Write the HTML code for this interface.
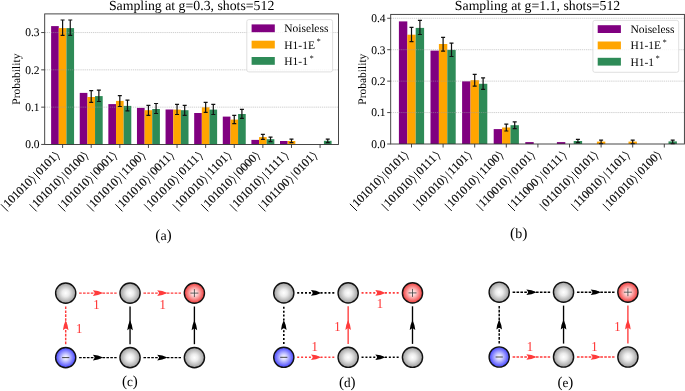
<!DOCTYPE html><html><head><meta charset="utf-8"><style>html,body{margin:0;padding:0;background:#fff;}svg{display:block;will-change:transform;} text{font-family:"Liberation Serif",serif;text-rendering:geometricPrecision;} .k{stroke:#000;stroke-width:0.05;}</style></head><body><svg width="685" height="391" viewBox="0 0 685 391" font-family='"Liberation Serif", serif' fill="#000">
<defs><radialGradient id="gg" cx="0.5" cy="0.5" r="0.5"><stop offset="0" stop-color="#ffffff"/><stop offset="0.35" stop-color="#ececec"/><stop offset="1" stop-color="#9c9c9c"/></radialGradient><radialGradient id="gb" cx="0.5" cy="0.5" r="0.5"><stop offset="0" stop-color="#ffffff"/><stop offset="0.3" stop-color="#d2d2ff"/><stop offset="1" stop-color="#4242ff"/></radialGradient><radialGradient id="gr" cx="0.5" cy="0.5" r="0.5"><stop offset="0" stop-color="#ffffff"/><stop offset="0.3" stop-color="#ffd0d0"/><stop offset="1" stop-color="#f03a3a"/></radialGradient></defs>
<rect width="685" height="391" fill="#fff"/>
<rect x="51.12" y="26.1" width="7.65" height="118.35" fill="#800080"/>
<rect x="58.77" y="28.1" width="7.65" height="116.35" fill="#ffa500"/>
<rect x="66.42" y="28.1" width="7.65" height="116.35" fill="#2e8b57"/>
<rect x="79.74" y="92.9" width="7.65" height="51.55" fill="#800080"/>
<rect x="87.39" y="97" width="7.65" height="47.45" fill="#ffa500"/>
<rect x="95.04" y="96.1" width="7.65" height="48.35" fill="#2e8b57"/>
<rect x="108.34" y="104.1" width="7.65" height="40.35" fill="#800080"/>
<rect x="115.99" y="100.9" width="7.65" height="43.55" fill="#ffa500"/>
<rect x="123.64" y="105.9" width="7.65" height="38.55" fill="#2e8b57"/>
<rect x="136.96" y="107.9" width="7.65" height="36.55" fill="#800080"/>
<rect x="144.61" y="110.2" width="7.65" height="34.25" fill="#ffa500"/>
<rect x="152.25" y="109" width="7.65" height="35.45" fill="#2e8b57"/>
<rect x="165.56" y="109.5" width="7.65" height="34.95" fill="#800080"/>
<rect x="173.22" y="109.6" width="7.65" height="34.85" fill="#ffa500"/>
<rect x="180.86" y="110.2" width="7.65" height="34.25" fill="#2e8b57"/>
<rect x="194.18" y="113" width="7.65" height="31.45" fill="#800080"/>
<rect x="201.83" y="107.3" width="7.65" height="37.15" fill="#ffa500"/>
<rect x="209.47" y="109.6" width="7.65" height="34.85" fill="#2e8b57"/>
<rect x="222.78" y="116.6" width="7.65" height="27.85" fill="#800080"/>
<rect x="230.44" y="119.6" width="7.65" height="24.85" fill="#ffa500"/>
<rect x="238.08" y="114" width="7.65" height="30.45" fill="#2e8b57"/>
<rect x="251.4" y="139.9" width="7.65" height="4.55" fill="#800080"/>
<rect x="259.05" y="137.1" width="7.65" height="7.35" fill="#ffa500"/>
<rect x="266.69" y="139.2" width="7.65" height="5.25" fill="#2e8b57"/>
<rect x="280" y="141" width="7.65" height="3.45" fill="#800080"/>
<rect x="287.66" y="141" width="7.65" height="3.45" fill="#ffa500"/>
<rect x="323.92" y="140.8" width="7.65" height="3.65" fill="#2e8b57"/>
<line x1="44.7" y1="107.15" x2="338.5" y2="107.15" stroke="#a0a0a0" stroke-opacity="0.55" stroke-width="0.9" stroke-dasharray="1.3 0.8"/>
<line x1="44.7" y1="69.85" x2="338.5" y2="69.85" stroke="#a0a0a0" stroke-opacity="0.55" stroke-width="0.9" stroke-dasharray="1.3 0.8"/>
<line x1="44.7" y1="32.55" x2="338.5" y2="32.55" stroke="#a0a0a0" stroke-opacity="0.55" stroke-width="0.9" stroke-dasharray="1.3 0.8"/>
<path d="M62.6 20V35.4M60.6 20H64.6M60.6 35.4H64.6" stroke="#111" stroke-width="1.2" fill="none"/>
<path d="M70.25 20V35.4M68.25 20H72.25M68.25 35.4H72.25" stroke="#111" stroke-width="1.2" fill="none"/>
<path d="M91.21 90.7V102.4M89.21 90.7H93.21M89.21 102.4H93.21" stroke="#111" stroke-width="1.2" fill="none"/>
<path d="M98.86 90.2V101.5M96.86 90.2H100.86M96.86 101.5H100.86" stroke="#111" stroke-width="1.2" fill="none"/>
<path d="M119.82 95.6V106.5M117.82 95.6H121.82M117.82 106.5H121.82" stroke="#111" stroke-width="1.2" fill="none"/>
<path d="M127.47 100.2V110.8M125.47 100.2H129.47M125.47 110.8H129.47" stroke="#111" stroke-width="1.2" fill="none"/>
<path d="M148.43 105.3V115.3M146.43 105.3H150.43M146.43 115.3H150.43" stroke="#111" stroke-width="1.2" fill="none"/>
<path d="M156.08 103.5V113.5M154.08 103.5H158.08M154.08 113.5H158.08" stroke="#111" stroke-width="1.2" fill="none"/>
<path d="M177.04 104.3V114.5M175.04 104.3H179.04M175.04 114.5H179.04" stroke="#111" stroke-width="1.2" fill="none"/>
<path d="M184.69 105.3V115.3M182.69 105.3H186.69M182.69 115.3H186.69" stroke="#111" stroke-width="1.2" fill="none"/>
<path d="M205.65 102.3V112.4M203.65 102.3H207.65M203.65 112.4H207.65" stroke="#111" stroke-width="1.2" fill="none"/>
<path d="M213.3 104.3V114.5M211.3 104.3H215.3M211.3 114.5H215.3" stroke="#111" stroke-width="1.2" fill="none"/>
<path d="M234.26 115.4V123.7M232.26 115.4H236.26M232.26 123.7H236.26" stroke="#111" stroke-width="1.2" fill="none"/>
<path d="M241.91 109.3V118.4M239.91 109.3H243.91M239.91 118.4H243.91" stroke="#111" stroke-width="1.2" fill="none"/>
<path d="M262.87 134.3V139.4M260.87 134.3H264.87M260.87 139.4H264.87" stroke="#111" stroke-width="1.2" fill="none"/>
<path d="M270.52 137.1V141.7M268.52 137.1H272.52M268.52 141.7H272.52" stroke="#111" stroke-width="1.2" fill="none"/>
<path d="M291.48 139.2V142.6M289.48 139.2H293.48M289.48 142.6H293.48" stroke="#111" stroke-width="1.2" fill="none"/>
<path d="M327.74 139.2V142.6M325.74 139.2H329.74M325.74 142.6H329.74" stroke="#111" stroke-width="1.2" fill="none"/>
<rect x="44.7" y="13.9" width="293.8" height="130.55" fill="none" stroke="#333" stroke-width="0.9"/>
<line x1="41.2" y1="144.45" x2="44.7" y2="144.45" stroke="#333" stroke-width="0.9"/>
<text class="k" x="39.5" y="148.35" font-size="11.5" text-anchor="end">0.0</text>
<line x1="41.2" y1="107.15" x2="44.7" y2="107.15" stroke="#333" stroke-width="0.9"/>
<text class="k" x="39.5" y="111.05" font-size="11.5" text-anchor="end">0.1</text>
<line x1="41.2" y1="69.85" x2="44.7" y2="69.85" stroke="#333" stroke-width="0.9"/>
<text class="k" x="39.5" y="73.75" font-size="11.5" text-anchor="end">0.2</text>
<line x1="41.2" y1="32.55" x2="44.7" y2="32.55" stroke="#333" stroke-width="0.9"/>
<text class="k" x="39.5" y="36.45" font-size="11.5" text-anchor="end">0.3</text>
<line x1="62.6" y1="144.45" x2="62.6" y2="147.95" stroke="#333" stroke-width="0.9"/>
<line x1="91.21" y1="144.45" x2="91.21" y2="147.95" stroke="#333" stroke-width="0.9"/>
<line x1="119.82" y1="144.45" x2="119.82" y2="147.95" stroke="#333" stroke-width="0.9"/>
<line x1="148.43" y1="144.45" x2="148.43" y2="147.95" stroke="#333" stroke-width="0.9"/>
<line x1="177.04" y1="144.45" x2="177.04" y2="147.95" stroke="#333" stroke-width="0.9"/>
<line x1="205.65" y1="144.45" x2="205.65" y2="147.95" stroke="#333" stroke-width="0.9"/>
<line x1="234.26" y1="144.45" x2="234.26" y2="147.95" stroke="#333" stroke-width="0.9"/>
<line x1="262.87" y1="144.45" x2="262.87" y2="147.95" stroke="#333" stroke-width="0.9"/>
<line x1="291.48" y1="144.45" x2="291.48" y2="147.95" stroke="#333" stroke-width="0.9"/>
<line x1="320.09" y1="144.45" x2="320.09" y2="147.95" stroke="#333" stroke-width="0.9"/>
<text transform="translate(20.1 79.17) rotate(-90)" font-size="11.5" text-anchor="middle">Probability</text>
<text x="191.6" y="9.6" font-size="13.8" text-anchor="middle">Sampling at g=0.3, shots=512</text>
<rect x="246.8" y="19.6" width="85.8" height="52.3" rx="2" fill="#fff" fill-opacity="0.8" stroke="#d8d8d8" stroke-width="0.8"/>
<rect x="251.6" y="24.4" width="23.2" height="7.8" fill="#800080"/>
<text x="284.3" y="32.2" font-size="11.5">Noiseless</text>
<rect x="251.6" y="40.7" width="23.2" height="7.8" fill="#ffa500"/>
<text x="284.3" y="48.5" font-size="11.5">H1-1E<tspan dx="1.5" dy="-4.3" font-size="8.5">*</tspan></text>
<rect x="251.6" y="57" width="23.2" height="7.8" fill="#2e8b57"/>
<text x="284.3" y="64.8" font-size="11.5">H1-1<tspan dx="1.5" dy="-4.3" font-size="8.5">*</tspan></text>
<g transform="translate(60.55 155.5) rotate(-45) translate(-79.02 0)"><path d="M2.38 -7.62V2.38" stroke="#000" stroke-width="0.9" fill="none"/><text x="4.76" y="0" font-size="11.9" stroke="#000" stroke-width="0.15">101010</text><path d="M41.65 -8.33L44.03 -2.86L41.65 2.62" stroke="#000" stroke-width="0.8" fill="none"/><path d="M47.84 -7.62V2.38" stroke="#000" stroke-width="0.9" fill="none"/><text x="50.22" y="0" font-size="11.9" stroke="#000" stroke-width="0.15">0101</text><path d="M75.21 -8.33L77.59 -2.86L75.21 2.62" stroke="#000" stroke-width="0.8" fill="none"/></g>
<g transform="translate(89.16 155.5) rotate(-45) translate(-79.02 0)"><path d="M2.38 -7.62V2.38" stroke="#000" stroke-width="0.9" fill="none"/><text x="4.76" y="0" font-size="11.9" stroke="#000" stroke-width="0.15">101010</text><path d="M41.65 -8.33L44.03 -2.86L41.65 2.62" stroke="#000" stroke-width="0.8" fill="none"/><path d="M47.84 -7.62V2.38" stroke="#000" stroke-width="0.9" fill="none"/><text x="50.22" y="0" font-size="11.9" stroke="#000" stroke-width="0.15">0100</text><path d="M75.21 -8.33L77.59 -2.86L75.21 2.62" stroke="#000" stroke-width="0.8" fill="none"/></g>
<g transform="translate(117.77 155.5) rotate(-45) translate(-79.02 0)"><path d="M2.38 -7.62V2.38" stroke="#000" stroke-width="0.9" fill="none"/><text x="4.76" y="0" font-size="11.9" stroke="#000" stroke-width="0.15">101010</text><path d="M41.65 -8.33L44.03 -2.86L41.65 2.62" stroke="#000" stroke-width="0.8" fill="none"/><path d="M47.84 -7.62V2.38" stroke="#000" stroke-width="0.9" fill="none"/><text x="50.22" y="0" font-size="11.9" stroke="#000" stroke-width="0.15">0001</text><path d="M75.21 -8.33L77.59 -2.86L75.21 2.62" stroke="#000" stroke-width="0.8" fill="none"/></g>
<g transform="translate(146.38 155.5) rotate(-45) translate(-79.02 0)"><path d="M2.38 -7.62V2.38" stroke="#000" stroke-width="0.9" fill="none"/><text x="4.76" y="0" font-size="11.9" stroke="#000" stroke-width="0.15">101010</text><path d="M41.65 -8.33L44.03 -2.86L41.65 2.62" stroke="#000" stroke-width="0.8" fill="none"/><path d="M47.84 -7.62V2.38" stroke="#000" stroke-width="0.9" fill="none"/><text x="50.22" y="0" font-size="11.9" stroke="#000" stroke-width="0.15">1100</text><path d="M75.21 -8.33L77.59 -2.86L75.21 2.62" stroke="#000" stroke-width="0.8" fill="none"/></g>
<g transform="translate(174.99 155.5) rotate(-45) translate(-79.02 0)"><path d="M2.38 -7.62V2.38" stroke="#000" stroke-width="0.9" fill="none"/><text x="4.76" y="0" font-size="11.9" stroke="#000" stroke-width="0.15">101010</text><path d="M41.65 -8.33L44.03 -2.86L41.65 2.62" stroke="#000" stroke-width="0.8" fill="none"/><path d="M47.84 -7.62V2.38" stroke="#000" stroke-width="0.9" fill="none"/><text x="50.22" y="0" font-size="11.9" stroke="#000" stroke-width="0.15">0011</text><path d="M75.21 -8.33L77.59 -2.86L75.21 2.62" stroke="#000" stroke-width="0.8" fill="none"/></g>
<g transform="translate(203.6 155.5) rotate(-45) translate(-79.02 0)"><path d="M2.38 -7.62V2.38" stroke="#000" stroke-width="0.9" fill="none"/><text x="4.76" y="0" font-size="11.9" stroke="#000" stroke-width="0.15">101010</text><path d="M41.65 -8.33L44.03 -2.86L41.65 2.62" stroke="#000" stroke-width="0.8" fill="none"/><path d="M47.84 -7.62V2.38" stroke="#000" stroke-width="0.9" fill="none"/><text x="50.22" y="0" font-size="11.9" stroke="#000" stroke-width="0.15">0111</text><path d="M75.21 -8.33L77.59 -2.86L75.21 2.62" stroke="#000" stroke-width="0.8" fill="none"/></g>
<g transform="translate(232.21 155.5) rotate(-45) translate(-79.02 0)"><path d="M2.38 -7.62V2.38" stroke="#000" stroke-width="0.9" fill="none"/><text x="4.76" y="0" font-size="11.9" stroke="#000" stroke-width="0.15">101010</text><path d="M41.65 -8.33L44.03 -2.86L41.65 2.62" stroke="#000" stroke-width="0.8" fill="none"/><path d="M47.84 -7.62V2.38" stroke="#000" stroke-width="0.9" fill="none"/><text x="50.22" y="0" font-size="11.9" stroke="#000" stroke-width="0.15">1101</text><path d="M75.21 -8.33L77.59 -2.86L75.21 2.62" stroke="#000" stroke-width="0.8" fill="none"/></g>
<g transform="translate(260.82 155.5) rotate(-45) translate(-79.02 0)"><path d="M2.38 -7.62V2.38" stroke="#000" stroke-width="0.9" fill="none"/><text x="4.76" y="0" font-size="11.9" stroke="#000" stroke-width="0.15">101010</text><path d="M41.65 -8.33L44.03 -2.86L41.65 2.62" stroke="#000" stroke-width="0.8" fill="none"/><path d="M47.84 -7.62V2.38" stroke="#000" stroke-width="0.9" fill="none"/><text x="50.22" y="0" font-size="11.9" stroke="#000" stroke-width="0.15">0000</text><path d="M75.21 -8.33L77.59 -2.86L75.21 2.62" stroke="#000" stroke-width="0.8" fill="none"/></g>
<g transform="translate(289.43 155.5) rotate(-45) translate(-79.02 0)"><path d="M2.38 -7.62V2.38" stroke="#000" stroke-width="0.9" fill="none"/><text x="4.76" y="0" font-size="11.9" stroke="#000" stroke-width="0.15">101010</text><path d="M41.65 -8.33L44.03 -2.86L41.65 2.62" stroke="#000" stroke-width="0.8" fill="none"/><path d="M47.84 -7.62V2.38" stroke="#000" stroke-width="0.9" fill="none"/><text x="50.22" y="0" font-size="11.9" stroke="#000" stroke-width="0.15">1111</text><path d="M75.21 -8.33L77.59 -2.86L75.21 2.62" stroke="#000" stroke-width="0.8" fill="none"/></g>
<g transform="translate(318.04 155.5) rotate(-45) translate(-79.02 0)"><path d="M2.38 -7.62V2.38" stroke="#000" stroke-width="0.9" fill="none"/><text x="4.76" y="0" font-size="11.9" stroke="#000" stroke-width="0.15">101100</text><path d="M41.65 -8.33L44.03 -2.86L41.65 2.62" stroke="#000" stroke-width="0.8" fill="none"/><path d="M47.84 -7.62V2.38" stroke="#000" stroke-width="0.9" fill="none"/><text x="50.22" y="0" font-size="11.9" stroke="#000" stroke-width="0.15">0101</text><path d="M75.21 -8.33L77.59 -2.86L75.21 2.62" stroke="#000" stroke-width="0.8" fill="none"/></g>
<text x="163.5" y="239.5" font-size="14" text-anchor="middle"><tspan font-size="15.6">(</tspan>a<tspan font-size="15.6">)</tspan></text>
<rect x="398.9" y="21.4" width="8.4" height="122.6" fill="#800080"/>
<rect x="407.3" y="34.7" width="8.4" height="109.3" fill="#ffa500"/>
<rect x="415.7" y="27.9" width="8.4" height="116.1" fill="#2e8b57"/>
<rect x="430.5" y="50.6" width="8.4" height="93.4" fill="#800080"/>
<rect x="438.9" y="44" width="8.4" height="100" fill="#ffa500"/>
<rect x="447.3" y="49.9" width="8.4" height="94.1" fill="#2e8b57"/>
<rect x="462.1" y="81.3" width="8.4" height="62.7" fill="#800080"/>
<rect x="470.5" y="80.2" width="8.4" height="63.8" fill="#ffa500"/>
<rect x="478.9" y="83.8" width="8.4" height="60.2" fill="#2e8b57"/>
<rect x="493.7" y="129.1" width="8.4" height="14.9" fill="#800080"/>
<rect x="502.1" y="127.5" width="8.4" height="16.5" fill="#ffa500"/>
<rect x="510.5" y="125.2" width="8.4" height="18.8" fill="#2e8b57"/>
<rect x="525.3" y="142.1" width="8.4" height="1.9" fill="#800080"/>
<rect x="556.9" y="142.1" width="8.4" height="1.9" fill="#800080"/>
<rect x="573.7" y="141" width="8.4" height="3" fill="#2e8b57"/>
<rect x="596.9" y="141.6" width="8.4" height="2.4" fill="#ffa500"/>
<rect x="628.5" y="141.6" width="8.4" height="2.4" fill="#ffa500"/>
<rect x="668.5" y="141.4" width="8.4" height="2.6" fill="#2e8b57"/>
<line x1="390.7" y1="112.57" x2="684.4" y2="112.57" stroke="#a0a0a0" stroke-opacity="0.55" stroke-width="0.9" stroke-dasharray="1.3 0.8"/>
<line x1="390.7" y1="81.14" x2="684.4" y2="81.14" stroke="#a0a0a0" stroke-opacity="0.55" stroke-width="0.9" stroke-dasharray="1.3 0.8"/>
<line x1="390.7" y1="49.71" x2="684.4" y2="49.71" stroke="#a0a0a0" stroke-opacity="0.55" stroke-width="0.9" stroke-dasharray="1.3 0.8"/>
<line x1="390.7" y1="18.28" x2="684.4" y2="18.28" stroke="#a0a0a0" stroke-opacity="0.55" stroke-width="0.9" stroke-dasharray="1.3 0.8"/>
<path d="M411.5 27.4V41.7M409.5 27.4H413.5M409.5 41.7H413.5" stroke="#111" stroke-width="1.2" fill="none"/>
<path d="M419.9 20.4V34.5M417.9 20.4H421.9M417.9 34.5H421.9" stroke="#111" stroke-width="1.2" fill="none"/>
<path d="M443.1 37.4V51.1M441.1 37.4H445.1M441.1 51.1H445.1" stroke="#111" stroke-width="1.2" fill="none"/>
<path d="M451.5 43.1V56.5M449.5 43.1H453.5M449.5 56.5H453.5" stroke="#111" stroke-width="1.2" fill="none"/>
<path d="M474.7 74.3V86.1M472.7 74.3H476.7M472.7 86.1H476.7" stroke="#111" stroke-width="1.2" fill="none"/>
<path d="M483.1 77.9V89.4M481.1 77.9H485.1M481.1 89.4H485.1" stroke="#111" stroke-width="1.2" fill="none"/>
<path d="M506.3 124.1V131M504.3 124.1H508.3M504.3 131H508.3" stroke="#111" stroke-width="1.2" fill="none"/>
<path d="M514.7 121.8V128.7M512.7 121.8H516.7M512.7 128.7H516.7" stroke="#111" stroke-width="1.2" fill="none"/>
<path d="M577.9 139.3V142.6M575.9 139.3H579.9M575.9 142.6H579.9" stroke="#111" stroke-width="1.2" fill="none"/>
<path d="M601.1 140.1V143.6M599.1 140.1H603.1M599.1 143.6H603.1" stroke="#111" stroke-width="1.2" fill="none"/>
<path d="M632.7 140.1V143.6M630.7 140.1H634.7M630.7 143.6H634.7" stroke="#111" stroke-width="1.2" fill="none"/>
<path d="M672.7 140.1V143.6M670.7 140.1H674.7M670.7 143.6H674.7" stroke="#111" stroke-width="1.2" fill="none"/>
<rect x="390.7" y="14.4" width="293.7" height="129.6" fill="none" stroke="#333" stroke-width="0.9"/>
<line x1="387.2" y1="144" x2="390.7" y2="144" stroke="#333" stroke-width="0.9"/>
<text class="k" x="385.5" y="147.9" font-size="11.5" text-anchor="end">0.0</text>
<line x1="387.2" y1="112.57" x2="390.7" y2="112.57" stroke="#333" stroke-width="0.9"/>
<text class="k" x="385.5" y="116.47" font-size="11.5" text-anchor="end">0.1</text>
<line x1="387.2" y1="81.14" x2="390.7" y2="81.14" stroke="#333" stroke-width="0.9"/>
<text class="k" x="385.5" y="85.04" font-size="11.5" text-anchor="end">0.2</text>
<line x1="387.2" y1="49.71" x2="390.7" y2="49.71" stroke="#333" stroke-width="0.9"/>
<text class="k" x="385.5" y="53.61" font-size="11.5" text-anchor="end">0.3</text>
<line x1="387.2" y1="18.28" x2="390.7" y2="18.28" stroke="#333" stroke-width="0.9"/>
<text class="k" x="385.5" y="22.18" font-size="11.5" text-anchor="end">0.4</text>
<line x1="411.5" y1="144" x2="411.5" y2="147.5" stroke="#333" stroke-width="0.9"/>
<line x1="443.1" y1="144" x2="443.1" y2="147.5" stroke="#333" stroke-width="0.9"/>
<line x1="474.7" y1="144" x2="474.7" y2="147.5" stroke="#333" stroke-width="0.9"/>
<line x1="506.3" y1="144" x2="506.3" y2="147.5" stroke="#333" stroke-width="0.9"/>
<line x1="537.9" y1="144" x2="537.9" y2="147.5" stroke="#333" stroke-width="0.9"/>
<line x1="569.5" y1="144" x2="569.5" y2="147.5" stroke="#333" stroke-width="0.9"/>
<line x1="601.1" y1="144" x2="601.1" y2="147.5" stroke="#333" stroke-width="0.9"/>
<line x1="632.7" y1="144" x2="632.7" y2="147.5" stroke="#333" stroke-width="0.9"/>
<line x1="664.3" y1="144" x2="664.3" y2="147.5" stroke="#333" stroke-width="0.9"/>
<text transform="translate(366.1 79.2) rotate(-90)" font-size="11.5" text-anchor="middle">Probability</text>
<text x="537.55" y="10.2" font-size="13.8" text-anchor="middle">Sampling at g=1.1, shots=512</text>
<rect x="592.9" y="20.4" width="85.8" height="51.9" rx="2" fill="#fff" fill-opacity="0.8" stroke="#d8d8d8" stroke-width="0.8"/>
<rect x="597.7" y="25.2" width="23.2" height="7.8" fill="#800080"/>
<text x="630.4" y="33" font-size="11.5">Noiseless</text>
<rect x="597.7" y="41.5" width="23.2" height="7.8" fill="#ffa500"/>
<text x="630.4" y="49.3" font-size="11.5">H1-1E<tspan dx="1.5" dy="-4.3" font-size="8.5">*</tspan></text>
<rect x="597.7" y="57.8" width="23.2" height="7.8" fill="#2e8b57"/>
<text x="630.4" y="65.6" font-size="11.5">H1-1<tspan dx="1.5" dy="-4.3" font-size="8.5">*</tspan></text>
<g transform="translate(409.45 155.05) rotate(-45) translate(-79.02 0)"><path d="M2.38 -7.62V2.38" stroke="#000" stroke-width="0.9" fill="none"/><text x="4.76" y="0" font-size="11.9" stroke="#000" stroke-width="0.15">101010</text><path d="M41.65 -8.33L44.03 -2.86L41.65 2.62" stroke="#000" stroke-width="0.8" fill="none"/><path d="M47.84 -7.62V2.38" stroke="#000" stroke-width="0.9" fill="none"/><text x="50.22" y="0" font-size="11.9" stroke="#000" stroke-width="0.15">0101</text><path d="M75.21 -8.33L77.59 -2.86L75.21 2.62" stroke="#000" stroke-width="0.8" fill="none"/></g>
<g transform="translate(441.05 155.05) rotate(-45) translate(-79.02 0)"><path d="M2.38 -7.62V2.38" stroke="#000" stroke-width="0.9" fill="none"/><text x="4.76" y="0" font-size="11.9" stroke="#000" stroke-width="0.15">101010</text><path d="M41.65 -8.33L44.03 -2.86L41.65 2.62" stroke="#000" stroke-width="0.8" fill="none"/><path d="M47.84 -7.62V2.38" stroke="#000" stroke-width="0.9" fill="none"/><text x="50.22" y="0" font-size="11.9" stroke="#000" stroke-width="0.15">0111</text><path d="M75.21 -8.33L77.59 -2.86L75.21 2.62" stroke="#000" stroke-width="0.8" fill="none"/></g>
<g transform="translate(472.65 155.05) rotate(-45) translate(-79.02 0)"><path d="M2.38 -7.62V2.38" stroke="#000" stroke-width="0.9" fill="none"/><text x="4.76" y="0" font-size="11.9" stroke="#000" stroke-width="0.15">101010</text><path d="M41.65 -8.33L44.03 -2.86L41.65 2.62" stroke="#000" stroke-width="0.8" fill="none"/><path d="M47.84 -7.62V2.38" stroke="#000" stroke-width="0.9" fill="none"/><text x="50.22" y="0" font-size="11.9" stroke="#000" stroke-width="0.15">1101</text><path d="M75.21 -8.33L77.59 -2.86L75.21 2.62" stroke="#000" stroke-width="0.8" fill="none"/></g>
<g transform="translate(504.25 155.05) rotate(-45) translate(-79.02 0)"><path d="M2.38 -7.62V2.38" stroke="#000" stroke-width="0.9" fill="none"/><text x="4.76" y="0" font-size="11.9" stroke="#000" stroke-width="0.15">101010</text><path d="M41.65 -8.33L44.03 -2.86L41.65 2.62" stroke="#000" stroke-width="0.8" fill="none"/><path d="M47.84 -7.62V2.38" stroke="#000" stroke-width="0.9" fill="none"/><text x="50.22" y="0" font-size="11.9" stroke="#000" stroke-width="0.15">1100</text><path d="M75.21 -8.33L77.59 -2.86L75.21 2.62" stroke="#000" stroke-width="0.8" fill="none"/></g>
<g transform="translate(535.85 155.05) rotate(-45) translate(-79.02 0)"><path d="M2.38 -7.62V2.38" stroke="#000" stroke-width="0.9" fill="none"/><text x="4.76" y="0" font-size="11.9" stroke="#000" stroke-width="0.15">110010</text><path d="M41.65 -8.33L44.03 -2.86L41.65 2.62" stroke="#000" stroke-width="0.8" fill="none"/><path d="M47.84 -7.62V2.38" stroke="#000" stroke-width="0.9" fill="none"/><text x="50.22" y="0" font-size="11.9" stroke="#000" stroke-width="0.15">0101</text><path d="M75.21 -8.33L77.59 -2.86L75.21 2.62" stroke="#000" stroke-width="0.8" fill="none"/></g>
<g transform="translate(567.45 155.05) rotate(-45) translate(-79.02 0)"><path d="M2.38 -7.62V2.38" stroke="#000" stroke-width="0.9" fill="none"/><text x="4.76" y="0" font-size="11.9" stroke="#000" stroke-width="0.15">111000</text><path d="M41.65 -8.33L44.03 -2.86L41.65 2.62" stroke="#000" stroke-width="0.8" fill="none"/><path d="M47.84 -7.62V2.38" stroke="#000" stroke-width="0.9" fill="none"/><text x="50.22" y="0" font-size="11.9" stroke="#000" stroke-width="0.15">0111</text><path d="M75.21 -8.33L77.59 -2.86L75.21 2.62" stroke="#000" stroke-width="0.8" fill="none"/></g>
<g transform="translate(599.05 155.05) rotate(-45) translate(-79.02 0)"><path d="M2.38 -7.62V2.38" stroke="#000" stroke-width="0.9" fill="none"/><text x="4.76" y="0" font-size="11.9" stroke="#000" stroke-width="0.15">011010</text><path d="M41.65 -8.33L44.03 -2.86L41.65 2.62" stroke="#000" stroke-width="0.8" fill="none"/><path d="M47.84 -7.62V2.38" stroke="#000" stroke-width="0.9" fill="none"/><text x="50.22" y="0" font-size="11.9" stroke="#000" stroke-width="0.15">0101</text><path d="M75.21 -8.33L77.59 -2.86L75.21 2.62" stroke="#000" stroke-width="0.8" fill="none"/></g>
<g transform="translate(630.65 155.05) rotate(-45) translate(-79.02 0)"><path d="M2.38 -7.62V2.38" stroke="#000" stroke-width="0.9" fill="none"/><text x="4.76" y="0" font-size="11.9" stroke="#000" stroke-width="0.15">110010</text><path d="M41.65 -8.33L44.03 -2.86L41.65 2.62" stroke="#000" stroke-width="0.8" fill="none"/><path d="M47.84 -7.62V2.38" stroke="#000" stroke-width="0.9" fill="none"/><text x="50.22" y="0" font-size="11.9" stroke="#000" stroke-width="0.15">1101</text><path d="M75.21 -8.33L77.59 -2.86L75.21 2.62" stroke="#000" stroke-width="0.8" fill="none"/></g>
<g transform="translate(662.25 155.05) rotate(-45) translate(-79.02 0)"><path d="M2.38 -7.62V2.38" stroke="#000" stroke-width="0.9" fill="none"/><text x="4.76" y="0" font-size="11.9" stroke="#000" stroke-width="0.15">101010</text><path d="M41.65 -8.33L44.03 -2.86L41.65 2.62" stroke="#000" stroke-width="0.8" fill="none"/><path d="M47.84 -7.62V2.38" stroke="#000" stroke-width="0.9" fill="none"/><text x="50.22" y="0" font-size="11.9" stroke="#000" stroke-width="0.15">0100</text><path d="M75.21 -8.33L77.59 -2.86L75.21 2.62" stroke="#000" stroke-width="0.8" fill="none"/></g>
<text x="518.7" y="237.6" font-size="14" text-anchor="middle"><tspan font-size="15.6">(</tspan>b<tspan font-size="15.6">)</tspan></text>
<line x1="79.1" y1="293.1" x2="116.65" y2="293.1" stroke="#ff3b3b" stroke-width="1.45" stroke-dasharray="2.6 1.3"/><path d="M103.08 293.1Q97.98 295.56 92.88 295.9L94.88 293.1L92.88 290.3Q97.98 290.64 103.08 293.1Z" fill="#ff3b3b"/><line x1="143.45" y1="293.1" x2="181" y2="293.1" stroke="#ff3b3b" stroke-width="1.45" stroke-dasharray="2.6 1.3"/><path d="M167.42 293.1Q162.32 295.56 157.22 295.9L159.22 293.1L157.22 290.3Q162.32 290.64 167.42 293.1Z" fill="#ff3b3b"/><line x1="79.1" y1="357.6" x2="116.65" y2="357.6" stroke="#000" stroke-width="1.45" stroke-dasharray="2.6 1.3"/><path d="M103.08 357.6Q97.98 360.06 92.88 360.4L94.88 357.6L92.88 354.8Q97.98 355.14 103.08 357.6Z" fill="#000"/><line x1="143.45" y1="357.6" x2="181" y2="357.6" stroke="#000" stroke-width="1.45" stroke-dasharray="2.6 1.3"/><path d="M167.42 357.6Q162.32 360.06 157.22 360.4L159.22 357.6L157.22 354.8Q162.32 355.14 167.42 357.6Z" fill="#000"/><line x1="65.7" y1="344.2" x2="65.7" y2="306.5" stroke="#ff3b3b" stroke-width="1.45" stroke-dasharray="2.6 1.3"/><path d="M65.7 320.15Q68.16 325.25 68.5 330.35L65.7 328.35L62.9 330.35Q63.24 325.25 65.7 320.15Z" fill="#ff3b3b"/><line x1="130.05" y1="344.2" x2="130.05" y2="306.5" stroke="#000" stroke-width="1.35"/><path d="M130.05 320.15Q132.51 325.25 132.85 330.35L130.05 328.35L127.25 330.35Q127.59 325.25 130.05 320.15Z" fill="#000"/><line x1="194.4" y1="344.2" x2="194.4" y2="306.5" stroke="#000" stroke-width="1.35"/><path d="M194.4 320.15Q196.86 325.25 197.2 330.35L194.4 328.35L191.6 330.35Q191.94 325.25 194.4 320.15Z" fill="#000"/><circle cx="65.7" cy="293.1" r="10.1" fill="url(#gg)" stroke="#111" stroke-width="1.4"/><circle cx="130.05" cy="293.1" r="10.1" fill="url(#gg)" stroke="#111" stroke-width="1.4"/><circle cx="194.4" cy="293.1" r="10.1" fill="url(#gr)" stroke="#111" stroke-width="1.4"/><path d="M190.4 293.1H198.4M194.4 289.1V297.1" stroke="#444" stroke-width="0.85"/><circle cx="65.7" cy="357.6" r="10.1" fill="url(#gb)" stroke="#111" stroke-width="1.4"/><path d="M62.1 357.6H69.3" stroke="#333" stroke-width="0.9"/><circle cx="130.05" cy="357.6" r="10.1" fill="url(#gg)" stroke="#111" stroke-width="1.4"/><circle cx="194.4" cy="357.6" r="10.1" fill="url(#gg)" stroke="#111" stroke-width="1.4"/><text x="96.3" y="308.8" font-size="13.6" fill="#ff3b3b" text-anchor="middle">1</text><text x="162.6" y="308.8" font-size="13.6" fill="#ff3b3b" text-anchor="middle">1</text><text x="79.1" y="333" font-size="13.6" fill="#ff3b3b" text-anchor="middle">1</text><text x="129.9" y="385.8" font-size="13.2" text-anchor="middle"><tspan font-size="15">(</tspan>c<tspan font-size="15">)</tspan></text>
<line x1="297.2" y1="292.9" x2="334.75" y2="292.9" stroke="#000" stroke-width="1.6" stroke-dasharray="2 1.9"/><path d="M321.18 292.9Q316.07 295.36 310.98 295.7L312.98 292.9L310.98 290.1Q316.07 290.44 321.18 292.9Z" fill="#000"/><line x1="361.55" y1="292.9" x2="399.1" y2="292.9" stroke="#ff3b3b" stroke-width="1.6" stroke-dasharray="2 1.9"/><path d="M385.52 292.9Q380.42 295.36 375.32 295.7L377.32 292.9L375.32 290.1Q380.42 290.44 385.52 292.9Z" fill="#ff3b3b"/><line x1="297.2" y1="357.3" x2="334.75" y2="357.3" stroke="#ff3b3b" stroke-width="1.6" stroke-dasharray="2 1.9"/><path d="M321.18 357.3Q316.07 359.76 310.98 360.1L312.98 357.3L310.98 354.5Q316.07 354.84 321.18 357.3Z" fill="#ff3b3b"/><line x1="361.55" y1="357.3" x2="399.1" y2="357.3" stroke="#000" stroke-width="1.6" stroke-dasharray="2 1.9"/><path d="M385.52 357.3Q380.42 359.76 375.32 360.1L377.32 357.3L375.32 354.5Q380.42 354.84 385.52 357.3Z" fill="#000"/><line x1="283.8" y1="343.9" x2="283.8" y2="306.3" stroke="#000" stroke-width="1.6" stroke-dasharray="2 1.9"/><path d="M283.8 319.9Q286.26 325 286.6 330.1L283.8 328.1L281 330.1Q281.34 325 283.8 319.9Z" fill="#000"/><line x1="348.15" y1="343.9" x2="348.15" y2="306.3" stroke="#ff3b3b" stroke-width="1.35"/><path d="M348.15 319.9Q350.61 325 350.95 330.1L348.15 328.1L345.35 330.1Q345.69 325 348.15 319.9Z" fill="#ff3b3b"/><line x1="412.5" y1="343.9" x2="412.5" y2="306.3" stroke="#000" stroke-width="1.35"/><path d="M412.5 319.9Q414.96 325 415.3 330.1L412.5 328.1L409.7 330.1Q410.04 325 412.5 319.9Z" fill="#000"/><circle cx="283.8" cy="292.9" r="10.1" fill="url(#gg)" stroke="#111" stroke-width="1.4"/><circle cx="348.15" cy="292.9" r="10.1" fill="url(#gg)" stroke="#111" stroke-width="1.4"/><circle cx="412.5" cy="292.9" r="10.1" fill="url(#gr)" stroke="#111" stroke-width="1.4"/><path d="M408.5 292.9H416.5M412.5 288.9V296.9" stroke="#444" stroke-width="0.85"/><circle cx="283.8" cy="357.3" r="10.1" fill="url(#gb)" stroke="#111" stroke-width="1.4"/><path d="M280.2 357.3H287.4" stroke="#333" stroke-width="0.9"/><circle cx="348.15" cy="357.3" r="10.1" fill="url(#gg)" stroke="#111" stroke-width="1.4"/><circle cx="412.5" cy="357.3" r="10.1" fill="url(#gg)" stroke="#111" stroke-width="1.4"/><text x="380" y="308.2" font-size="13.6" fill="#ff3b3b" text-anchor="middle">1</text><text x="337.5" y="330.8" font-size="13.6" fill="#ff3b3b" text-anchor="middle">1</text><text x="314.6" y="351.2" font-size="13.6" fill="#ff3b3b" text-anchor="middle">1</text><text x="347.2" y="387.3" font-size="13.2" text-anchor="middle"><tspan font-size="15">(</tspan>d<tspan font-size="15">)</tspan></text>
<line x1="512.6" y1="292.2" x2="550.15" y2="292.2" stroke="#000" stroke-width="1.45" stroke-dasharray="2.6 1.3"/><path d="M536.58 292.2Q531.48 294.66 526.38 295L528.38 292.2L526.38 289.4Q531.48 289.74 536.58 292.2Z" fill="#000"/><line x1="576.95" y1="292.2" x2="614.5" y2="292.2" stroke="#000" stroke-width="1.45" stroke-dasharray="2.6 1.3"/><path d="M600.92 292.2Q595.82 294.66 590.72 295L592.72 292.2L590.72 289.4Q595.82 289.74 600.92 292.2Z" fill="#000"/><line x1="512.6" y1="357" x2="550.15" y2="357" stroke="#ff3b3b" stroke-width="1.45" stroke-dasharray="2.6 1.3"/><path d="M536.58 357Q531.48 359.46 526.38 359.8L528.38 357L526.38 354.2Q531.48 354.54 536.58 357Z" fill="#ff3b3b"/><line x1="576.95" y1="357" x2="614.5" y2="357" stroke="#ff3b3b" stroke-width="1.45" stroke-dasharray="2.6 1.3"/><path d="M600.92 357Q595.82 359.46 590.72 359.8L592.72 357L590.72 354.2Q595.82 354.54 600.92 357Z" fill="#ff3b3b"/><line x1="499.2" y1="343.6" x2="499.2" y2="305.6" stroke="#000" stroke-width="1.45" stroke-dasharray="2.6 1.3"/><path d="M499.2 319.4Q501.66 324.5 502 329.6L499.2 327.6L496.4 329.6Q496.74 324.5 499.2 319.4Z" fill="#000"/><line x1="563.55" y1="343.6" x2="563.55" y2="305.6" stroke="#000" stroke-width="1.35"/><path d="M563.55 319.4Q566.01 324.5 566.35 329.6L563.55 327.6L560.75 329.6Q561.09 324.5 563.55 319.4Z" fill="#000"/><line x1="627.9" y1="343.6" x2="627.9" y2="305.6" stroke="#ff3b3b" stroke-width="1.35"/><path d="M627.9 319.4Q630.36 324.5 630.7 329.6L627.9 327.6L625.1 329.6Q625.44 324.5 627.9 319.4Z" fill="#ff3b3b"/><circle cx="499.2" cy="292.2" r="10.1" fill="url(#gg)" stroke="#111" stroke-width="1.4"/><circle cx="563.55" cy="292.2" r="10.1" fill="url(#gg)" stroke="#111" stroke-width="1.4"/><circle cx="627.9" cy="292.2" r="10.1" fill="url(#gr)" stroke="#111" stroke-width="1.4"/><path d="M623.9 292.2H631.9M627.9 288.2V296.2" stroke="#444" stroke-width="0.85"/><circle cx="499.2" cy="357" r="10.1" fill="url(#gb)" stroke="#111" stroke-width="1.4"/><path d="M495.6 357H502.8" stroke="#333" stroke-width="0.9"/><circle cx="563.55" cy="357" r="10.1" fill="url(#gg)" stroke="#111" stroke-width="1.4"/><circle cx="627.9" cy="357" r="10.1" fill="url(#gg)" stroke="#111" stroke-width="1.4"/><text x="617.4" y="331.3" font-size="13.6" fill="#ff3b3b" text-anchor="middle">1</text><text x="530" y="351.3" font-size="13.6" fill="#ff3b3b" text-anchor="middle">1</text><text x="594.4" y="351.3" font-size="13.6" fill="#ff3b3b" text-anchor="middle">1</text><text x="565.4" y="387.3" font-size="13.2" text-anchor="middle"><tspan font-size="15">(</tspan>e<tspan font-size="15">)</tspan></text>
</svg></body></html>
